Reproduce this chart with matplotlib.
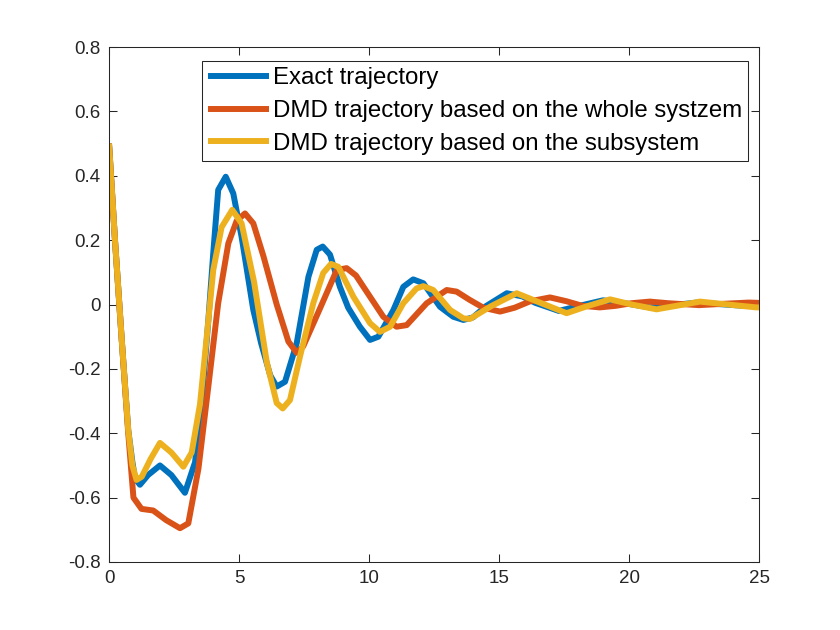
import matplotlib
matplotlib.use("Agg")
import matplotlib.pyplot as plt

plt.rcParams['font.family'] = ['Liberation Sans', 'DejaVu Sans']
plt.rcParams['axes.unicode_minus'] = False

labels = ["Exact trajectory",
          "DMD trajectory based on the whole systzem",
          "DMD trajectory based on the subsystem"]
colors = ["#0072BD", "#D95319", "#EDB120"]

t_exact = [0, 0.23, 0.49, 0.74, 0.9, 1.0, 1.19, 1.5, 1.96, 2.4, 2.92, 3.31, 3.56, 3.82, 4.01, 4.2,
           4.49, 4.78, 5.1, 5.55, 5.85, 6.2, 6.45, 6.77, 7.22, 7.67, 7.99, 8.22, 8.5, 8.88,
           9.2, 9.65, 10.04, 10.36, 10.94, 11.32, 11.7, 12.09, 12.73, 13.24, 13.63, 14.0,
           14.5, 15.3, 15.9, 16.4, 17.3, 18.1, 19.0, 19.9, 20.8, 21.7, 22.6, 23.5, 24.4, 25]
y_exact = [0.50, 0.20, -0.11, -0.39, -0.49, -0.54, -0.56, -0.53, -0.50, -0.53, -0.585, -0.49, -0.31,
           -0.05, 0.16, 0.356, 0.397, 0.345, 0.21, -0.017, -0.12, -0.22, -0.255, -0.24, -0.12,
           0.086, 0.17, 0.18, 0.155, 0.055, -0.01, -0.069, -0.11, -0.10, -0.017, 0.055, 0.078,
           0.066, -0.007, -0.038, -0.048, -0.04, -0.005, 0.035, 0.025, 0.005, -0.02, -0.004,
           0.013, 0.003, -0.009, -0.002, 0.006, 0.001, -0.004, -0.001]

t_whole = [0, 0.23, 0.49, 0.74, 0.94, 1.25, 1.7, 2.2, 2.73, 3.05, 3.44, 3.82, 4.2, 4.59, 4.91, 5.23,
           5.55, 5.94, 6.45, 6.9, 7.22, 7.47, 8.1, 8.76, 9.14, 9.5, 10.04, 10.55, 11.06, 11.45,
           12.22, 12.99, 13.37, 13.88, 14.4, 15.04, 15.6, 16.2, 16.96, 17.6, 18.2, 18.88, 19.5,
           20.1, 20.8, 21.5, 22.7, 23.6, 24.6, 25]
y_whole = [0.50, 0.20, -0.11, -0.40, -0.60, -0.635, -0.64, -0.67, -0.695, -0.68, -0.51, -0.255, 0.004,
           0.19, 0.26, 0.283, 0.252, 0.15, 0.0, -0.115, -0.15, -0.13, -0.015, 0.107, 0.113,
           0.09, 0.024, -0.038, -0.069, -0.064, 0.004, 0.045, 0.04, 0.014, -0.01, -0.022, -0.01,
           0.01, 0.022, 0.01, -0.004, -0.009, -0.004, 0.004, 0.009, 0.004, -0.002, 0.002,
           0.006, 0.005]

t_sub = [0, 0.23, 0.49, 0.74, 0.9, 1.06, 1.26, 1.6, 1.96, 2.4, 2.86, 3.18, 3.5, 3.76, 4.01,
         4.33, 4.74, 5.1, 5.58, 6.07, 6.45, 6.68, 6.96, 7.35, 7.86, 8.24, 8.54, 8.82, 9.4,
         10.04, 10.42, 10.81, 11.32, 11.83, 12.09, 12.47, 13.12, 13.63, 13.88, 14.7, 15.68,
         16.6, 17.6, 18.4, 19.27, 20.1, 21.06, 21.9, 22.73, 23.8, 24.9, 25]
y_sub = [0.50, 0.20, -0.11, -0.39, -0.50, -0.545, -0.535, -0.48, -0.43, -0.46, -0.504, -0.46,
         -0.31, -0.10, 0.107, 0.24, 0.294, 0.252, 0.07, -0.18, -0.306, -0.323, -0.297, -0.16,
         0.005, 0.098, 0.126, 0.117, 0.024, -0.058, -0.085, -0.069, 0.004, 0.05, 0.057, 0.045,
         -0.017, -0.043, -0.045, -0.005, 0.035, 0.005, -0.027, -0.005, 0.016, 0.0, -0.015,
         -0.003, 0.009, 0.0, -0.009, -0.009]

xticks = [0, 5, 10, 15, 20, 25]
yticks = [-0.8, -0.6, -0.4, -0.2, 0, 0.2, 0.4, 0.6, 0.8]
yticklabels = ["-0.8", "-0.6", "-0.4", "-0.2", "0", "0.2", "0.4", "0.6", "0.8"]

fig = plt.figure(figsize=(8.4, 6.3), dpi=100)
ax = fig.add_axes([109/840, 1-562/630, (759-109)/840, (562-47)/630])

series = [(t_exact, y_exact), (t_whole, y_whole), (t_sub, y_sub)]
for (tt, yy), c, lab in zip(series, colors, labels):
    ax.plot(tt, yy, color=c, lw=4.3, label=lab, solid_joinstyle='round', solid_capstyle='butt')

ax.set_xlim(0, 25)
ax.set_ylim(-0.8, 0.8)
ax.set_xticks(xticks)
ax.set_xticklabels([str(v) for v in xticks])
ax.set_yticks(yticks)
ax.set_yticklabels(yticklabels)
ax.tick_params(direction='in', length=6, width=0.75, top=True, right=True,
               labelsize=13.5, colors='#262626', pad=6)
for s in ax.spines.values():
    s.set_linewidth(0.75)
    s.set_color('#262626')

leg = ax.legend(loc='upper left', bbox_to_anchor=(202/840, 1-61/630),
                bbox_transform=fig.transFigure, fontsize=17.3, frameon=True,
                fancybox=False, framealpha=1, edgecolor='#262626',
                handlelength=2.5, handletextpad=0.17, borderpad=0.27,
                labelspacing=0.44, borderaxespad=0)
leg.get_frame().set_linewidth(0.75)

fig.savefig("out.png", dpi=100)
